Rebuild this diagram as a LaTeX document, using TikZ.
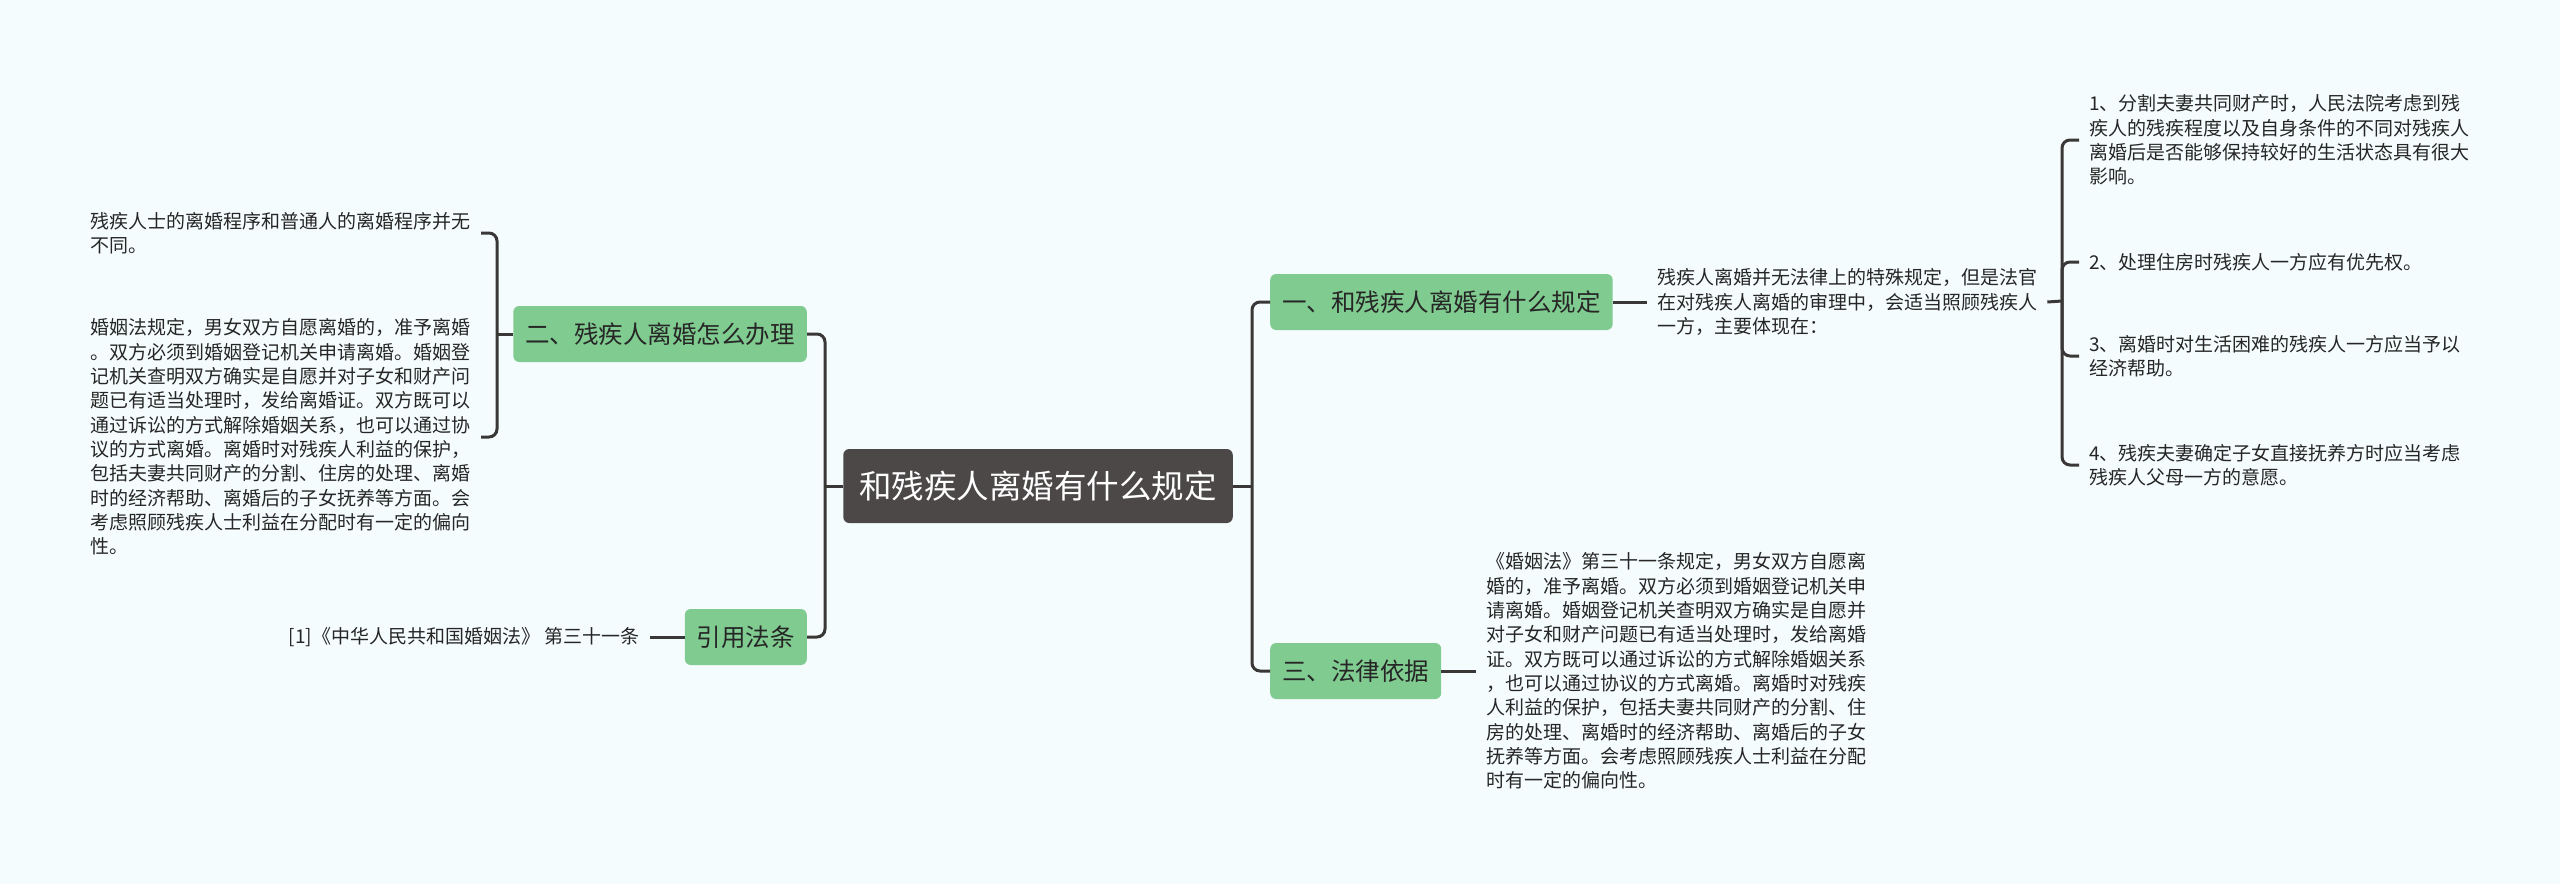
\documentclass[tikz,border=0pt]{standalone}
\usepackage{fontspec}
\setmainfont{Noto Sans CJK SC}
\usetikzlibrary{positioning}
\definecolor{bgcol}{HTML}{F5FCFD}
\definecolor{rootfill}{HTML}{4C4848}
\definecolor{topicfill}{HTML}{80CB90}
\definecolor{linkcol}{HTML}{3A3737}
\tikzset{link/.style={draw=linkcol, line width=3pt, rounded corners=8pt}}

\begin{document}
\begin{tikzpicture}[x=1pt, y=-1pt,
    rootbox/.style={fill=rootfill, rounded corners=6pt, text=white, font=\fontsize{32.5}{36}\selectfont, minimum height=74pt, inner xsep=16pt},
    topic/.style={fill=topicfill, rounded corners=6pt, text=black!85, font=\fontsize{24.5}{28}\selectfont, minimum height=56pt, inner xsep=12pt},
    txt/.style={align=left, inner ysep=0pt, inner xsep=10pt, font=\fontsize{19}{24.3}\selectfont, text=black!85}
  ]
    \useasboundingbox[fill=bgcol] (0,0) rectangle (2560,884);

    \node[rootbox] (root) at (1038,486) {和残疾人离婚有什么规定};
    \node[topic, anchor=west] (rule) at (1270,302) {一、和残疾人离婚有什么规定};
    \node[topic, anchor=west] (basis) at (1270,671) {三、法律依据};
    \node[topic, anchor=east] (howto) at (807,334) {二、残疾人离婚怎么办理};
    \node[topic, anchor=east] (cite) at (807,637) {引用法条};

    \node[txt, right=34pt of rule] (ruletxt) {残疾人离婚并无法律上的特殊规定，但是法官\\在对残疾人离婚的审理中，会适当照顾残疾人\\一方，主要体现在：};
    \node[txt, right=35pt of basis] (basistxt) {《婚姻法》第三十一条规定，男女双方自愿离\\婚的，准予离婚。双方必须到婚姻登记机关申\\请离婚。婚姻登记机关查明双方确实是自愿并\\对子女和财产问题已有适当处理时，发给离婚\\证。双方既可以通过诉讼的方式解除婚姻关系\\，也可以通过协议的方式离婚。离婚时对残疾\\人利益的保护，包括夫妻共同财产的分割、住\\房的处理、离婚时的经济帮助、离婚后的子女\\抚养等方面。会考虑照顾残疾人士利益在分配\\时有一定的偏向性。};
    \node[txt, left=35pt of cite] (law) {[1]《中华人民共和国婚姻法》 第三十一条};
    \node[txt, anchor=east] (same) at (481,233) {残疾人士的离婚程序和普通人的离婚程序并无\\不同。};
    \node[txt, anchor=east] (proc) at (481,437) {婚姻法规定，男女双方自愿离婚的，准予离婚\\。双方必须到婚姻登记机关申请离婚。婚姻登\\记机关查明双方确实是自愿并对子女和财产问\\题已有适当处理时，发给离婚证。双方既可以\\通过诉讼的方式解除婚姻关系，也可以通过协\\议的方式离婚。离婚时对残疾人利益的保护，\\包括夫妻共同财产的分割、住房的处理、离婚\\时的经济帮助、离婚后的子女抚养等方面。会\\考虑照顾残疾人士利益在分配时有一定的偏向\\性。};

    % points of the four items
    \node[txt, anchor=west] (item1) at (2079,140) {1、分割夫妻共同财产时，人民法院考虑到残\\疾人的残疾程度以及自身条件的不同对残疾人\\离婚后是否能够保持较好的生活状态具有很大\\影响。};
    \node[txt, anchor=west] (item2) at (2079,262) {2、处理住房时残疾人一方应有优先权。};
    \node[txt, anchor=west] (item3) at (2079,356) {3、离婚时对生活困难的残疾人一方应当予以\\经济帮助。};
    \node[txt, anchor=west] (item4) at (2079,465) {4、残疾夫妻确定子女直接抚养方时应当考虑\\残疾人父母一方的意愿。};

    \coordinate (jleft) at (825,486);
    \coordinate (jright) at (1252,486);
    \coordinate (jhow) at (497,334);
    \coordinate (jitem) at (2062,301);

    \draw[link] (root.west) -- (jleft);
    \draw[link] (howto.east) -| (jleft) |- (cite.east);
    \draw[link] (root.east) -- (jright);
    \draw[link] (rule.west) -| (jright) |- (basis.west);
    \draw[link] (howto.west) -- (jhow);
    \draw[link] (same.east) -| (jhow) |- (proc.east);
    \draw[link] (cite.west) -- (law.east);
    \draw[link] (rule.east) -- (ruletxt.west);
    \draw[link] (basis.east) -- (basistxt.west);
    \draw[link] (ruletxt.east) -- (jitem);
    \draw[link] (item1.west) -| (jitem) |- (item4.west);
    \draw[link] (item2.west) -| (jitem);
    \draw[link] (item3.west) -| (jitem);
\end{tikzpicture}
\end{document}
